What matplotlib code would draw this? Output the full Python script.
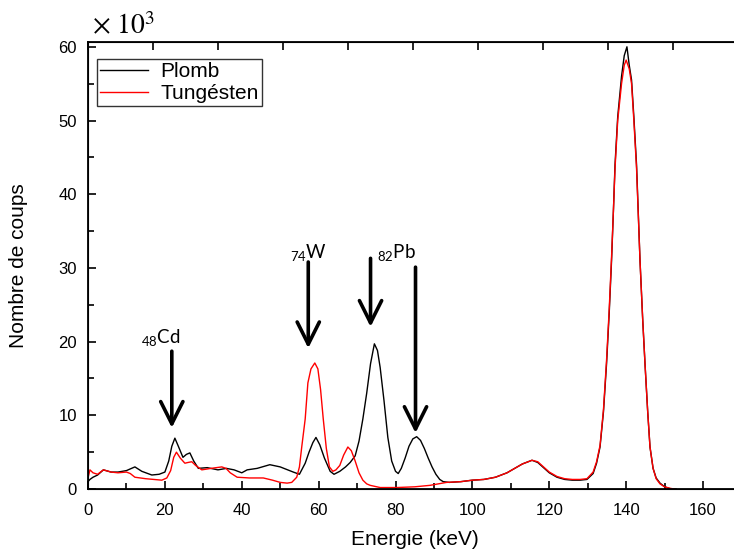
import numpy as np
import matplotlib
matplotlib.use('Agg')
import matplotlib.pyplot as plt

plt.rcParams['font.family'] = ['Liberation Sans', 'DejaVu Sans']

# spectre Plomb (energie keV, coups x10^3)
e_pb = [0, 0.5, 1.3, 2.5, 4, 6, 7.8, 10, 12.2, 14, 16.6, 18.5, 20, 21, 21.8, 22.6, 23.5,
        24.7, 25.6, 26.5, 27.5, 28.7, 31, 33.8, 36, 38, 40, 41.4, 44, 47.3, 50, 53.4, 55,
        56.5, 57.5, 58.5, 59.3, 60.3, 61.5, 63, 64, 65.5, 67, 68.2, 69.5, 70.5, 71.5, 72.5,
        73.5, 74.5, 75.3, 76, 77, 78, 79, 80, 80.7, 81.5, 82.5, 83.5, 84.5, 85.5, 86.5,
        87.5, 88.5, 89.5, 90.5, 91.5, 92.4, 94, 97, 100, 103, 106, 109, 111, 113, 115.5,
        117, 118.5, 120, 122, 124, 126, 128, 129.8, 131.4, 132.3, 133.2, 134.1, 134.9,
        135.6, 136.2, 136.7, 137.1, 137.8, 138.8, 139.5, 140.2, 140.8, 141.4, 142, 142.7,
        143.6, 144.3, 144.9, 145.6, 146.2, 147, 147.8, 148.8, 150, 151.4, 153]
c_pb = [1.0, 1.3, 1.6, 1.9, 2.6, 2.3, 2.3, 2.5, 3.0, 2.4, 1.9, 2.0, 2.3, 3.8, 5.8, 6.9, 5.8,
        4.3, 4.7, 4.9, 3.8, 2.8, 2.9, 2.6, 2.8, 2.6, 2.2, 2.6, 2.8, 3.3, 3.0, 2.3, 2.0,
        3.5, 5.0, 6.3, 7.0, 6.0, 4.2, 2.4, 2.0, 2.4, 3.0, 3.6, 4.5, 6.5, 9.5, 13.0,
        17.0, 19.7, 18.8, 16.5, 12.0, 7.0, 3.8, 2.4, 2.1, 2.8, 4.2, 5.8, 6.8, 7.1, 6.6,
        5.5, 4.2, 3.0, 2.0, 1.3, 1.0, 0.9, 1.0, 1.2, 1.3, 1.6, 2.2, 2.8, 3.4, 3.9,
        3.6, 2.9, 2.2, 1.6, 1.3, 1.2, 1.2, 1.3, 2.1, 3.5, 5.7, 10.5, 17.0,
        24.0, 31.0, 38.0, 44.0, 50.5, 56.0, 58.8, 60.0, 57.5, 55.5, 50.5, 44.0,
        31.0, 23.0, 17.0, 10.5, 5.7, 2.8, 1.5, 0.8, 0.3, 0.05, 0.0]

# spectre Tungstene
e_w = [0, 0.5, 1.3, 2.5, 4, 6, 7.8, 10, 11, 12.2, 15, 19.2, 20.5, 21.5, 22.3, 23, 24, 25.2,
       26, 27, 28, 29.6, 32, 34.8, 35.9, 37, 38.8, 42, 45.6, 48, 50, 51.8, 53, 54.3, 55,
       55.6, 56.5, 57.2, 58, 59, 59.8, 60.5, 61.2, 62, 62.8, 63.7, 64.5, 65.5, 66.5, 67.6,
       68.5, 69.5, 70.5, 71.5, 72.5, 73.4, 76, 80.3, 85, 89, 93.3, 97, 100, 103, 106, 109,
       111, 113, 115.5, 117, 118.5, 120, 122, 124, 126, 128, 129.8, 131.4, 132.3, 133.2,
       134.1, 134.9, 135.6, 136.2, 136.7, 137.1, 137.8, 138.8, 139.5, 140, 140.8, 141.4,
       142, 142.7, 143.6, 144.3, 144.9, 145.6, 146.2, 147, 147.8, 148.8, 150, 151.4, 152.5]
c_w = [1.5, 2.6, 2.2, 2.0, 2.6, 2.3, 2.2, 2.3, 2.1, 1.6, 1.4, 1.2, 1.5, 2.5, 4.3, 5.0, 4.2, 3.5,
       3.6, 3.7, 3.2, 2.6, 2.8, 3.0, 2.8, 2.2, 1.6, 1.5, 1.5, 1.2, 0.9, 0.8, 0.9, 1.6, 3.0,
       5.7, 9.5, 14.4, 16.3, 17.1, 16.3, 13.5, 9.5, 5.5, 3.0, 2.4, 2.6, 3.2, 4.6, 5.7,
       5.2, 3.8, 2.2, 1.2, 0.7, 0.5, 0.2, 0.2, 0.3, 0.5, 0.9, 1.0, 1.2, 1.3, 1.6, 2.2,
       2.8, 3.4, 3.9, 3.7, 3.0, 2.3, 1.7, 1.4, 1.3, 1.3, 1.4, 2.3, 3.7, 5.9,
       10.8, 17.5, 24.5, 31.5, 38.0, 43.5, 50.0, 55.0, 57.5, 58.2, 57.0, 55.0,
       50.0, 43.5, 31.0, 23.0, 17.0, 10.5, 5.7, 2.8, 1.4, 0.7, 0.3, 0.1, 0.0]

# fleches : (label, x label, y label, x fleche, y haut, y pointe)
labels = [r'$_{\mathregular{48}}$Cd', r'$_{\mathregular{74}}$W', r'$_{\mathregular{82}}$Pb']
label_x = [19.0, 57.3, 80.3]
label_y = [19.7, 31.2, 31.2]
arrow_x = [21.8, 57.3, 73.5, 85.2]
arrow_top = [18.7, 30.8, 31.3, 30.1]
arrow_tip = [8.3, 19.1, 22.0, 7.6]

fig = plt.figure(figsize=(7.34, 5.52), dpi=100)
ax = fig.add_axes([0.1199, 0.1141, 0.8903, 0.8098])

ax.plot(e_pb, c_pb, color='black', lw=1.0, label='Plomb')
ax.plot(e_w, c_w, color='#ff0000', lw=1.0, label='Tungésten')

ax.set_xlim(0, 170)
ax.set_ylim(0, 60.65)
ax.set_xticks(np.arange(0, 161, 20))
ax.set_xticks(np.arange(10, 170, 20), minor=True)
ax.set_yticks(np.arange(0, 61, 10))
ax.set_yticks(np.arange(5, 60, 10), minor=True)
ax.tick_params(which='both', direction='in', labelsize=12, width=1.2)
ax.tick_params(which='major', length=6)
ax.tick_params(which='minor', length=4)
ax.tick_params(axis='x', which='major', pad=10)
ax.tick_params(axis='y', which='major', pad=8)
for s in ax.spines.values():
    s.set_linewidth(1.3)

# ticks du haut
top = ax.twiny()
top.set_xlim(ax.get_xlim())
top.set_xticks(np.arange(0, 170, 16.91))
top.tick_params(direction='in', length=6, width=1.2, labeltop=False)

ax.set_xlabel('Energie (keV)', fontsize=15, labelpad=9)
ax.set_ylabel('Nombre de coups', fontsize=15, labelpad=22)

leg = ax.legend(loc='upper left', bbox_to_anchor=(0.0138, 0.962), fontsize=15,
                frameon=True, fancybox=False, borderpad=0.15, labelspacing=0.15,
                handlelength=2.3, handletextpad=0.6, borderaxespad=0)
leg.get_frame().set_edgecolor('black')
leg.get_frame().set_linewidth(1.0)

for lab, lx, ly in zip(labels, label_x, label_y):
    ax.text(lx, ly, lab, fontsize=13.5, family='Lato', ha='center', va='baseline')

for xa, yt, yp in zip(arrow_x, arrow_top, arrow_tip):
    ax.annotate('', xy=(xa, yp), xytext=(xa, yt),
                arrowprops=dict(arrowstyle='->,head_length=0.8,head_width=0.4',
                                lw=2.6, color='black', mutation_scale=20,
                                shrinkA=0, shrinkB=0))

fig.text(0.125, 0.937, r'$\times\ 10^{3}$', fontsize=20, math_fontfamily='stix')

fig.savefig('out.png', dpi=100)
